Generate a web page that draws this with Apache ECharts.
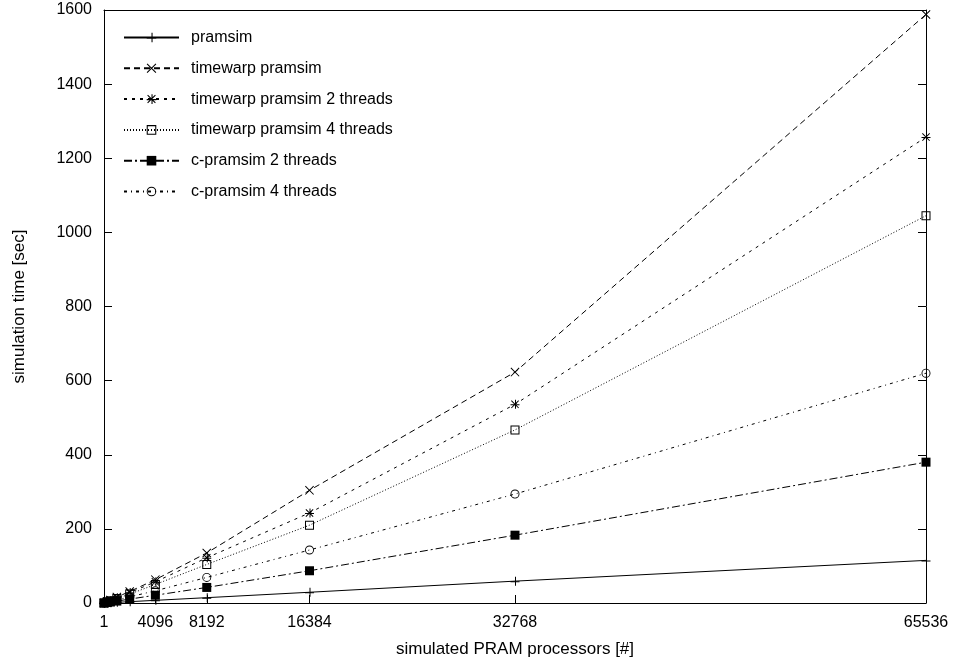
<!DOCTYPE html>
<html>
<head>
<meta charset="utf-8">
<script src="https://cdn.jsdelivr.net/npm/echarts@6/dist/echarts.min.js"></script>
<style>html,body{margin:0;padding:0;background:#fff}#c{width:956px;height:665px}</style>
</head>
<body>
<div id="c"></div>
<script>
const processors = [1, 256, 512, 1024, 2048, 4096, 8192, 16384, 32768, 65536];
const xTickLabels = [1, 4096, 8192, 16384, 32768, 65536];
const seriesNames = ['pramsim', 'timewarp pramsim', 'timewarp pramsim 2 threads', 'timewarp pramsim 4 threads', 'c-pramsim 2 threads', 'c-pramsim 4 threads'];
const pramsim = [0.05, 0.45, 0.9, 1.8, 3.6, 7.2, 14.4, 29, 59, 115];
const timewarp = [0.1, 4, 8, 16, 31, 63, 135, 304, 623, 1588];
const timewarp2 = [0.1, 3.6, 7, 14, 28, 57, 122, 243, 536, 1257];
const timewarp4 = [0.1, 3.1, 6, 12, 24, 50, 104, 210, 467, 1045];
const cpram2 = [0.05, 1.3, 2.6, 5.2, 10.5, 21, 42, 87, 183, 380];
const cpram4 = [0.05, 2, 4, 8.2, 16.5, 33, 69, 143, 294, 620];

const FONT = 'Liberation Sans';
const FS = 16;
const NFS = 17;
const plusPath = 'path://M0,4.5H9V5.5H0Z M4.5,0H5.5V9H4.5Z';
const crossPath = 'path://M0,0.7L0.7,0L9,8.3L8.3,9Z M0,8.3L8.3,0L9,0.7L0.7,9Z';
const starPath = 'path://M0,4.5H9V5.5H0Z M4.5,0H5.5V9H4.5Z M0.5,1.2L1.2,0.5L8.5,7.8L7.8,8.5Z M0.5,7.8L7.8,0.5L8.5,1.2L1.2,8.5Z';
const boxPath = 'path://M0,0H9V9H0Z M1,1V8H8V1Z';
const ringPath = 'path://M5,0A5,5 0 1,1 5,10A5,5 0 1,1 5,0Z M5,1A4,4 0 1,0 5,9A4,4 0 1,0 5,1Z';

function pts(ys) { return processors.map((x, i) => [x, ys[i]]); }

function mk(name, ys, symbol, size, dash) {
  return {
    name: name, type: 'line', data: pts(ys), xAxisIndex: 0, yAxisIndex: 0,
    symbol: symbol, symbolSize: size, showAllSymbol: true, animation: false,
    lineStyle: { color: '#000', width: 1, type: dash },
    itemStyle: { color: '#000', borderWidth: 0 },
    emphasis: { disabled: true }
  };
}

const chart = echarts.init(document.getElementById('c'), null, { renderer: 'canvas' });
chart.setOption({
  backgroundColor: '#fff',
  animation: false,
  textStyle: { fontFamily: FONT, fontSize: FS, color: '#000' },
  grid: { left: 104, right: 30, top: 10, bottom: 62, containLabel: false },
  legend: {
    orient: 'vertical', left: 123, top: 29, padding: 0,
    itemWidth: 55, itemHeight: 12, itemGap: 13.8,
    data: seriesNames,
    textStyle: { fontFamily: FONT, fontSize: FS, color: '#000', lineHeight: 17, padding: [0, 0, 0, 7] },
    selectedMode: false
  },
  xAxis: [{
    type: 'value', min: 0, max: 65536, position: 'bottom',
    name: 'simulated PRAM processors [#]', nameLocation: 'middle', nameGap: 38,
    nameTextStyle: { fontFamily: FONT, fontSize: NFS, color: '#000' },
    axisLine: { show: true, lineStyle: { color: '#000', width: 1 } },
    axisTick: { show: true, inside: true, length: 8, customValues: xTickLabels, lineStyle: { color: '#000' } },
    axisLabel: { customValues: xTickLabels, fontFamily: FONT, fontSize: FS, color: '#000', margin: 12, formatter: v => String(v) },
    splitLine: { show: false }
  }, {
    type: 'value', min: 0, max: 65536, position: 'top',
    axisLine: { show: true, onZero: false, lineStyle: { color: '#000', width: 1 } },
    axisTick: { show: false }, axisLabel: { show: false }, splitLine: { show: false }
  }],
  yAxis: [{
    type: 'value', min: 0, max: 1600, interval: 200, position: 'left',
    name: 'simulation time [sec]', nameLocation: 'middle', nameGap: 76, nameRotate: 90,
    nameTextStyle: { fontFamily: FONT, fontSize: NFS, color: '#000' },
    axisLine: { show: true, lineStyle: { color: '#000', width: 1 } },
    axisTick: { show: true, inside: true, length: 8, lineStyle: { color: '#000' } },
    axisLabel: { fontFamily: FONT, fontSize: FS, color: '#000', margin: 12, formatter: v => String(v) },
    splitLine: { show: false }
  }, {
    type: 'value', min: 0, max: 1600, interval: 200, position: 'right',
    axisLine: { show: true, onZero: false, lineStyle: { color: '#000', width: 1 } },
    axisTick: { show: true, inside: true, length: 8, lineStyle: { color: '#000' } },
    axisLabel: { show: false }, splitLine: { show: false }
  }],
  series: [
    mk(seriesNames[0], pramsim, plusPath, 9, 'solid'),
    mk(seriesNames[1], timewarp, crossPath, 9, [6, 4]),
    mk(seriesNames[2], timewarp2, starPath, 9, [3, 5]),
    mk(seriesNames[3], timewarp4, boxPath, 9, [1, 2]),
    mk(seriesNames[4], cpram2, 'rect', 9, [8, 3, 2, 3]),
    mk(seriesNames[5], cpram4, ringPath, 9, [3, 4, 1, 4])
  ]
});
</script>
</body>
</html>
